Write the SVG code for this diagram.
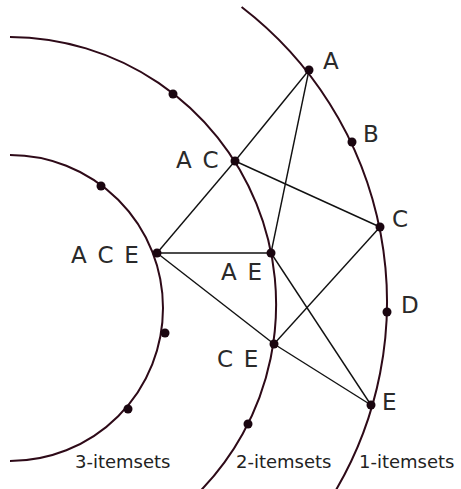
<svg xmlns="http://www.w3.org/2000/svg" width="461" height="489" viewBox="0 0 461 489">
<style>
.arc{fill:none;stroke:#2e0a18;stroke-width:2}
.edge{stroke:#111;stroke-width:1.4;fill:none}
.dot{fill:#1a0610}
.lbl{font-family:"DejaVu Sans",sans-serif;font-size:23px;fill:#2a2a2a;letter-spacing:1.7px}
.lvl{font-family:"DejaVu Sans",sans-serif;font-size:18px;fill:#222}
</style>
<rect width="461" height="489" fill="#ffffff"/>
<g id="levels">
<path class="arc" d="M241.6,7 A372,372 0 0 1 333,495"/>
<path class="arc" d="M10,36.9 A267.5,267.5 0 0 1 196.3,495"/>
<path class="arc" d="M10,155 A153,153 0 1 1 10,461"/>
</g>
<g id="connectors">
<line class="edge" x1="309" y1="70" x2="235" y2="161"/>
<line class="edge" x1="309" y1="70" x2="271" y2="253"/>
<line class="edge" x1="235" y1="161" x2="380" y2="227"/>
<line class="edge" x1="235" y1="161" x2="157" y2="253"/>
<line class="edge" x1="157" y1="253" x2="271" y2="253"/>
<line class="edge" x1="157" y1="253" x2="274" y2="344"/>
<line class="edge" x1="271" y1="253" x2="371" y2="405"/>
<line class="edge" x1="274" y1="344" x2="380" y2="227"/>
<line class="edge" x1="274" y1="344" x2="371" y2="405"/>
</g>
<g id="node-A"><circle class="dot" cx="309" cy="70" r="4.5"/><text class="lbl" x="323" y="69">A</text></g>
<g id="node-B"><circle class="dot" cx="352" cy="142" r="4.5"/><text class="lbl" x="363" y="142">B</text></g>
<g id="node-C"><circle class="dot" cx="380" cy="227" r="4.5"/><text class="lbl" x="392" y="227">C</text></g>
<g id="node-D"><circle class="dot" cx="387" cy="312" r="4.5"/><text class="lbl" x="401" y="313">D</text></g>
<g id="node-E"><circle class="dot" cx="371" cy="405" r="4.5"/><text class="lbl" x="382" y="410">E</text></g>
<g id="node-AC"><circle class="dot" cx="235" cy="161" r="4.5"/><text class="lbl" x="176" y="168">A C</text></g>
<g id="node-AE"><circle class="dot" cx="271" cy="253" r="4.5"/><text class="lbl" x="221" y="280">A E</text></g>
<g id="node-CE"><circle class="dot" cx="274" cy="344" r="4.5"/><text class="lbl" x="217" y="367">C E</text></g>
<g id="node-ACE"><circle class="dot" cx="157" cy="253" r="4.5"/><text class="lbl" x="71" y="263">A C E</text></g>
<g id="node-2a"><circle class="dot" cx="173" cy="94" r="4.5"/></g>
<g id="node-2b"><circle class="dot" cx="248" cy="424" r="4.5"/></g>
<g id="node-3a"><circle class="dot" cx="101" cy="186" r="4.5"/></g>
<g id="node-3b"><circle class="dot" cx="165" cy="333" r="4.5"/></g>
<g id="node-3c"><circle class="dot" cx="128" cy="409" r="4.5"/></g>
<g id="labels">
<text class="lvl" x="75" y="468">3-itemsets</text>
<text class="lvl" x="236" y="468">2-itemsets</text>
<text class="lvl" x="359" y="468">1-itemsets</text>
</g>
</svg>
